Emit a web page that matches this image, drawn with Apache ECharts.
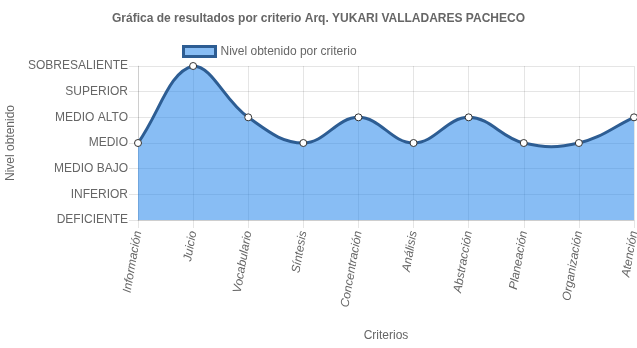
<!DOCTYPE html>
<html>
<head>
<meta charset="utf-8">
<script src="https://cdn.jsdelivr.net/npm/echarts@6/dist/echarts.min.js"></script>
<style>
  html, body { margin: 0; padding: 0; background: #fff; }
  #chart { width: 637px; height: 348px; }
</style>
</head>
<body>
<div id="chart"></div>
<script>
// Criteria evaluated and the level reached in each (0 = DEFICIENTE ... 6 = SOBRESALIENTE)
const criterios = ['Información', 'Juicio', 'Vocabulario', 'Síntesis', 'Concentración', 'Análisis', 'Abstracción', 'Planeación', 'Organización', 'Atención'];
const niveles = [3, 6, 4, 3, 4, 3, 4, 3, 3, 4];
const escala = ['DEFICIENTE', 'INFERIOR', 'MEDIO BAJO', 'MEDIO', 'MEDIO ALTO', 'SUPERIOR', 'SOBRESALIENTE'];

const FONT = '"Liberation Sans", Arial, Helvetica, sans-serif';
const TEXT = '#666';
const GRID = 'rgba(0,0,0,0.1)';
const LINE = '#2d5d93';
const FILL = 'rgba(30,130,235,0.53)';
const TENSION = 0.4;
const SERIES_NAME = 'Nivel obtenido por criterio';

// Cardinal spline control points (tension-based), clamped to the plot area
function controlPoints(pts, area) {
  const cps = [];
  let prev = pts[0];
  for (let i = 0; i < pts.length; i++) {
    const cur = pts[i];
    const next = pts[Math.min(i + 1, pts.length - 1)];
    const d01 = Math.hypot(cur[0] - prev[0], cur[1] - prev[1]);
    const d12 = Math.hypot(next[0] - cur[0], next[1] - cur[1]);
    let s01 = d01 / (d01 + d12), s12 = d12 / (d01 + d12);
    if (isNaN(s01)) s01 = 0;
    if (isNaN(s12)) s12 = 0;
    const fa = TENSION * s01, fb = TENSION * s12;
    const clampX = v => Math.max(area.x, Math.min(area.x + area.width, v));
    const clampY = v => Math.max(area.y, Math.min(area.y + area.height, v));
    cps.push({
      p: [clampX(cur[0] - fa * (next[0] - prev[0])), clampY(cur[1] - fa * (next[1] - prev[1]))],
      n: [clampX(cur[0] + fb * (next[0] - prev[0])), clampY(cur[1] + fb * (next[1] - prev[1]))]
    });
    prev = cur;
  }
  return cps;
}

function curvePath(pts, cps) {
  let d = 'M' + pts[0][0] + ' ' + pts[0][1];
  for (let i = 1; i < pts.length; i++) {
    const a = cps[i - 1].n, b = cps[i].p;
    d += ' C' + a[0] + ' ' + a[1] + ' ' + b[0] + ' ' + b[1] + ' ' + pts[i][0] + ' ' + pts[i][1];
  }
  return d;
}

// Whole curve and its filled area are drawn once, from the first data item
function renderCurve(params, api) {
  if (params.dataIndex !== 0) return null;
  const area = params.coordSys;
  const pts = niveles.map((v, i) => api.coord([i, v]));
  const cps = controlPoints(pts, area);
  const line = curvePath(pts, cps);
  const base = area.y + area.height;
  const fill = line + ' L' + pts[pts.length - 1][0] + ' ' + base + ' L' + pts[0][0] + ' ' + base + ' Z';
  return {
    type: 'group',
    children: [
      { type: 'path', shape: { pathData: fill }, style: { fill: FILL, stroke: null } },
      { type: 'path', shape: { pathData: line }, style: { fill: null, stroke: LINE, lineWidth: 3 } }
    ]
  };
}

const chart = echarts.init(document.getElementById('chart'), null, { renderer: 'canvas' });
chart.setOption({
  animation: false,
  textStyle: { fontFamily: FONT },
  title: {
    text: 'Gráfica de resultados por criterio Arq. YUKARI VALLADARES PACHECO',
    left: 'center',
    top: 8,
    textStyle: { fontFamily: FONT, fontSize: 12, fontWeight: 'bold', color: TEXT }
  },
  legend: {
    left: 177,
    top: 40,
    itemWidth: 32,
    itemHeight: 10,
    itemGap: 10,
    textStyle: { fontFamily: FONT, fontSize: 12, color: TEXT },
    data: [{
      name: SERIES_NAME,
      icon: 'rect',
      itemStyle: { color: FILL, borderColor: LINE, borderWidth: 3 }
    }]
  },
  grid: { left: 138, right: 3, top: 66, bottom: 128, containLabel: false, outerBoundsMode: 'none' },
  xAxis: {
    type: 'category',
    data: criterios,
    boundaryGap: false,
    name: 'Criterios',
    nameLocation: 'middle',
    nameGap: 110,
    nameTextStyle: { fontFamily: FONT, fontSize: 12, color: TEXT },
    axisLine: { show: true, lineStyle: { color: GRID } },
    axisTick: { show: true, length: 8, lineStyle: { color: GRID } },
    axisLabel: {
      rotate: 80,
      margin: 11,
      padding: [0, 0, 8, 0],
      fontFamily: FONT,
      fontSize: 12,
      fontStyle: 'italic',
      color: TEXT,
      interval: 0
    },
    splitLine: { show: true, lineStyle: { color: GRID } }
  },
  yAxis: {
    type: 'value',
    min: 0,
    max: 6,
    interval: 1,
    name: 'Nivel obtenido',
    nameLocation: 'middle',
    nameRotate: 90,
    nameGap: 116,
    nameTextStyle: { fontFamily: FONT, fontSize: 12, color: TEXT },
    axisLine: { show: true, lineStyle: { color: GRID } },
    axisTick: { show: true, length: 9, lineStyle: { color: GRID } },
    axisLabel: {
      margin: 10,
      fontFamily: FONT,
      fontSize: 12,
      color: TEXT,
      formatter: v => escala[v] || ''
    },
    splitLine: { show: true, lineStyle: { color: GRID } }
  },
  series: [
    {
      name: SERIES_NAME,
      type: 'custom',
      renderItem: renderCurve,
      data: niveles.map((v, i) => [i, v]),
      encode: { x: 0, y: 1 },
      clip: false,
      z: 2
    },
    {
      name: SERIES_NAME,
      type: 'scatter',
      data: niveles.map((v, i) => [i, v]),
      symbol: 'circle',
      symbolSize: 7,
      itemStyle: { color: '#fff', borderColor: '#333', borderWidth: 1, opacity: 1 },
      z: 3
    }
  ]
});
</script>
</body>
</html>
